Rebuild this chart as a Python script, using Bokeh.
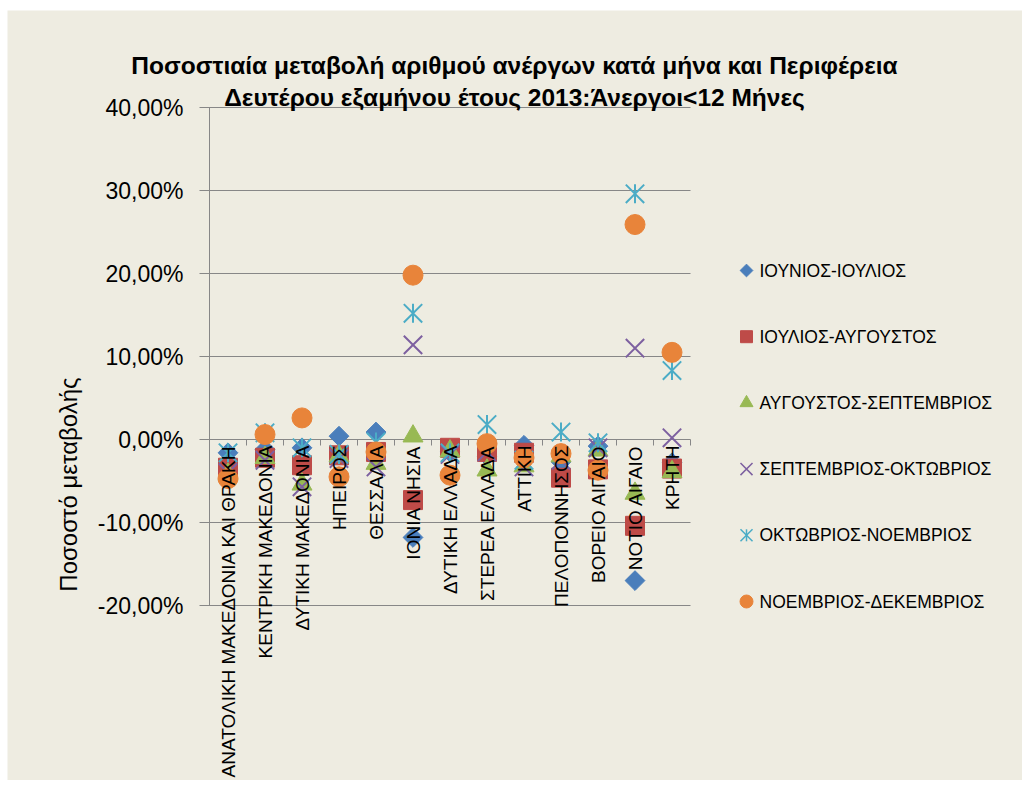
import math
from bokeh.plotting import figure
from bokeh.models import Range1d, ColumnDataSource
from bokeh.core.properties import value
from bokeh.embed import file_html
from bokeh.resources import INLINE

# ---------------- data ----------------
regions = ["ΑΝΑΤΟΛΙΚΗ ΜΑΚΕΔΟΝΙΑ ΚΑΙ ΘΡΑΚΗ", "ΚΕΝΤΡΙΚΗ ΜΑΚΕΔΟΝΙΑ", "ΔΥΤΙΚΗ ΜΑΚΕΔΟΝΙΑ",
           "ΗΠΕΙΡΟΣ", "ΘΕΣΣΑΛΙΑ", "ΙΟΝΙΑ ΝΗΣΙΑ", "ΔΥΤΙΚΗ ΕΛΛΑΔΑ", "ΣΤΕΡΕΑ ΕΛΛΑΔΑ",
           "ΑΤΤΙΚΗ", "ΠΕΛΟΠΟΝΝΗΣΟΣ", "ΒΟΡΕΙΟ ΑΙΓΑΙΟ", "ΝΟΤΙΟ ΑΙΓΑΙΟ", "ΚΡΗΤΗ"]

series_names = ["ΙΟΥΝΙΟΣ-ΙΟΥΛΙΟΣ", "ΙΟΥΛΙΟΣ-ΑΥΓΟΥΣΤΟΣ", "ΑΥΓΟΥΣΤΟΣ-ΣΕΠΤΕΜΒΡΙΟΣ",
                "ΣΕΠΤΕΜΒΡΙΟΣ-ΟΚΤΩΒΡΙΟΣ", "ΟΚΤΩΒΡΙΟΣ-ΝΟΕΜΒΡΙΟΣ", "ΝΟΕΜΒΡΙΟΣ-ΔΕΚΕΜΒΡΙΟΣ"]

# percent change
jun_jul = [-1.6, -1.2, -1.0, 0.4, 0.9, -11.8, -1.5, -2.0, -0.7, -2.7, -0.8, -17.0, -2.8]
jul_aug = [-3.4, -2.2, -3.1, -1.9, -1.5, -7.3, -1.0, -1.5, -1.6, -4.6, -3.6, -10.4, -3.5]
aug_sep = [-4.2, -2.2, -5.4, -2.0, -2.9, 0.4, -1.4, -3.7, -3.2, -2.0, -1.3, -6.5, -3.9]
sep_oct = [-4.0, -2.5, -5.7, -2.3, -3.3, 11.4, -1.8, -1.5, -3.3, -2.5, -1.0, 11.0, 0.2]
oct_nov = [-1.6, 0.8, -1.0, -1.8, -0.3, 15.2, -1.6, 1.8, -2.5, 0.9, -0.4, 29.6, 8.3]
nov_dec = [-4.7, 0.6, 2.6, -4.5, -1.5, 19.8, -4.3, -0.5, -2.2, -1.7, -3.7, 25.9, 10.5]

y_ticks = [-20, -10, 0, 10, 20, 30, 40]

title_line1 = "Ποσοστιαία μεταβολή αριθμού ανέργων κατά μήνα και Περιφέρεια"
title_line2 = "Δευτέρου εξαμήνου έτους 2013:Άνεργοι<12 Μήνες"
y_title = "Ποσοστό μεταβολής"

# ---------------- layout (pixels on the canvas) ----------------
W, H = 1022, 780
CHART_L, CHART_T = 7, 10                  # chart area (beige) top-left
PL, PR, PT, PB = 209, 690, 107, 605       # plot area edges
TICK_OUT = 10
LABEL_STANDOFF = 16
LEG_X, LEG_Y0, LEG_DY, LEG_TXT = 746, 270, 66.2, 759

BG = "#EEECE1"
GRID = "#878787"
FONT = "Liberation Sans"
C_BLUE = "#4A7EBB"
C_RED = "#BE4B48"
C_GREEN = "#98B954"
C_PURPLE = "#7D60A0"
C_CYAN = "#4BACC6"
C_ORANGE = "#E8843A"

n = len(regions)
ymin, ymax = y_ticks[0], y_ticks[-1]
xpp = n / (PR - PL)                 # data units per pixel (x)
ypp = (ymax - ymin) / (PB - PT)     # data units per pixel (y)


def px2x(px):
    return (px - PL) * xpp


def py2y(py):
    return ymax - (py - PT) * ypp


p = figure(width=W, height=H, output_backend="svg", toolbar_location=None,
           x_range=Range1d(px2x(0), px2x(W)), y_range=Range1d(py2y(H), py2y(0)),
           min_border=0)
p.axis.visible = False
p.grid.visible = False
p.background_fill_color = "white"
p.border_fill_color = "white"
p.outline_line_color = None

# chart background
p.quad(left=[px2x(CHART_L)], right=[px2x(W)], top=[py2y(CHART_T)], bottom=[py2y(H)],
       fill_color=BG, line_color=None)

xc = [i + 0.5 for i in range(n)]

# gridlines (incl. zero axis) with left tick marks
p.segment(x0=[px2x(PL - TICK_OUT)] * len(y_ticks), y0=y_ticks, x1=[n] * len(y_ticks),
          y1=y_ticks, line_color=GRID, line_width=1)
# vertical value axis
p.segment(x0=[0], y0=[ymin], x1=[0], y1=[ymax], line_color=GRID, line_width=1)
# category tick marks on zero axis
tk = 6 * ypp
p.segment(x0=list(range(n + 1)), y0=[0] * (n + 1), x1=list(range(n + 1)),
          y1=[-tk] * (n + 1), line_color=GRID, line_width=1)

# value tick labels
p.text(x=[px2x(PL - TICK_OUT - LABEL_STANDOFF)] * len(y_ticks), y=y_ticks,
       text=[f"{t:.2f}".replace(".", ",") + "%" for t in y_ticks],
       text_align="right", text_baseline="middle", text_font=value(FONT),
       text_font_size="23px", text_color="black")

# series
src = ColumnDataSource(dict(x=xc, a=jun_jul, b=jul_aug, c=aug_sep, d=sep_oct,
                            e=oct_nov, f=nov_dec))
p.scatter("x", "a", source=src, marker="square", size=14, angle=math.pi / 4,
          fill_color=C_BLUE, line_color=C_BLUE)
p.scatter("x", "b", source=src, marker="square", size=19,
          fill_color=C_RED, line_color=C_RED)
p.scatter("x", "c", source=src, marker="triangle", size=20,
          fill_color=C_GREEN, line_color=C_GREEN)
p.scatter("x", "d", source=src, marker="x", size=26,
          line_color=C_PURPLE, line_width=2)
p.scatter("x", "e", source=src, marker="x", size=26,
          line_color=C_CYAN, line_width=2)
p.scatter("x", "e", source=src, marker="dash", size=19, angle=math.pi / 2,
          line_color=C_CYAN, line_width=2)
p.scatter("x", "f", source=src, marker="circle", size=20,
          fill_color=C_ORANGE, line_color=C_ORANGE)

# category labels hanging below the zero axis (drawn over markers)
p.text(x=xc, y=[-tk] * n, text=regions, angle=math.pi / 2,
       text_align="right", text_baseline="middle", text_font=value(FONT),
       text_font_size="19px", text_color="black")

# titles
p.text(x=[px2x(W / 2 + 3)] * 2, y=[py2y(65), py2y(97)], text=[title_line1, title_line2],
       text_align="center", text_baseline="alphabetic", text_font=value(FONT),
       text_font_style="bold", text_font_size="24.5px", text_color="black")
p.text(x=[px2x(68)], y=[py2y(484)], text=[y_title], angle=math.pi / 2,
       text_align="center", text_baseline="middle", text_font=value(FONT),
       text_font_size="24px", text_color="black")

# legend (drawn manually so the marker shapes match the plot)
ly = [py2y(LEG_Y0 + k * LEG_DY) for k in range(len(series_names))]
lx = px2x(LEG_X)
p.scatter([lx], [ly[0]], marker="square", size=9, angle=math.pi / 4,
          fill_color=C_BLUE, line_color=C_BLUE)
p.scatter([lx], [ly[1]], marker="square", size=12, fill_color=C_RED, line_color=C_RED)
p.scatter([lx], [ly[2]], marker="triangle", size=13, fill_color=C_GREEN,
          line_color=C_GREEN)
p.scatter([lx], [ly[3]], marker="x", size=17, line_color=C_PURPLE, line_width=1.5)
p.scatter([lx], [ly[4]], marker="x", size=17, line_color=C_CYAN, line_width=1.5)
p.scatter([lx], [ly[4]], marker="dash", size=12, angle=math.pi / 2, line_color=C_CYAN,
          line_width=1.5)
p.scatter([lx], [ly[5]], marker="circle", size=13, fill_color=C_ORANGE,
          line_color=C_ORANGE)
p.text(x=[px2x(LEG_TXT)] * len(series_names), y=ly, text=series_names,
       text_align="left", text_baseline="middle", text_font=value(FONT),
       text_font_size="17.5px", text_color="black")

open("out.html", "w").write(file_html(p, INLINE))
